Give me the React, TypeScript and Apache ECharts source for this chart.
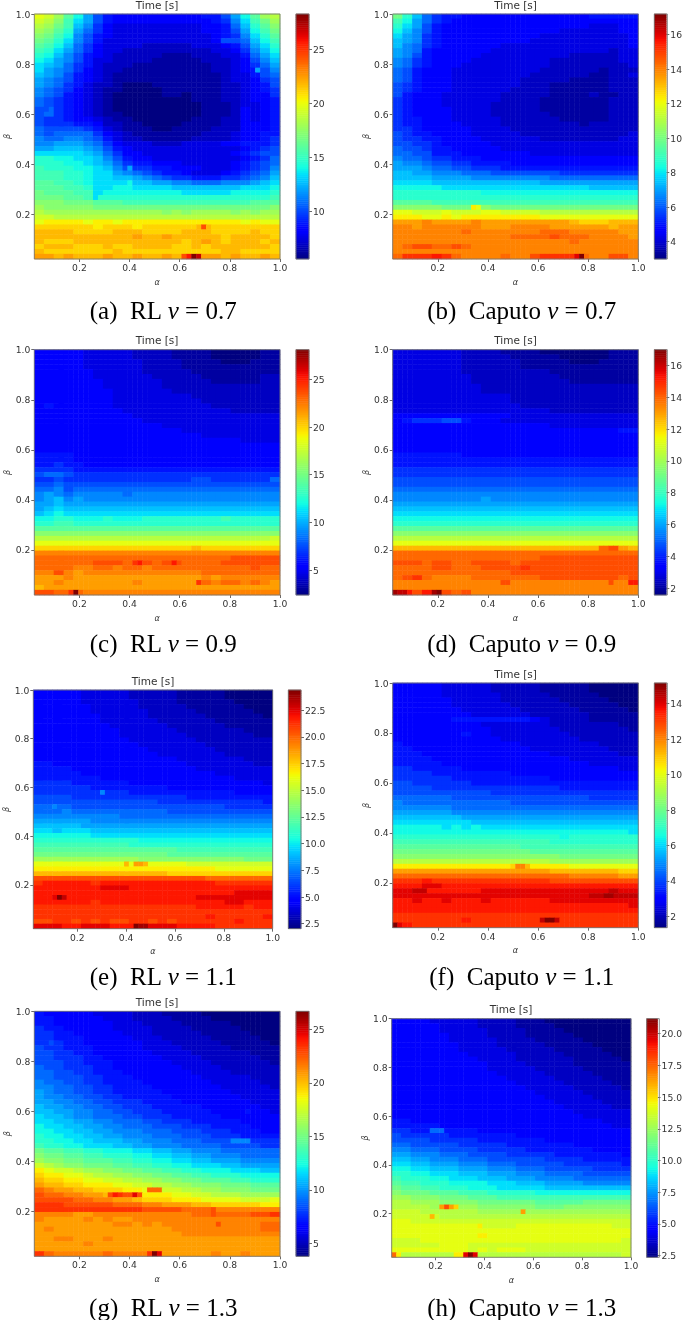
import React, { useEffect, useRef } from "react";
import * as echarts from "echarts";

// Cell values are stored as one character per cell, 0..z = fraction 0..35/35 of the panel's colour range.
const rowsA = [
"mljgda75444444444557adgjk","lkifca754444444444569cfhj","kjhfb9643333333334458begi","jigea8643333333334457adfh","ihfd975433333333334569ceg",
"hgec975333333333334778bdf","gfdb864333322222333457ace","feca8643322222222233469bd","edb975432222211122233 58ac","dca975332222111112223479b",
"cba865322211111111223468a","ca98643221111111112234579","ba97543211111111111233578","a987543211111111111233467","a986532210001111111223457",
"9876432110000111111223456","9875432100000110111223446","8765432100000000111223445","8765432100000000011123345","7765432100000000011124345",
"7865432110000000011124345","7665443211000000111224345","7666554221100001111224445","8777765321110011112224445","8788886432111111122234455",
"9889987532211111222234456","99aaa98643332223333445556","aabbba975433333333333 4567","cccccba86443333333334567","eeddccb975443333333334568",
"eeeddcba86554443333345678","feeeddcb97665544433345679","fffeedcca98765543334 5678a","fffeedccbba9876655566789b","ggffedccccbbaa99888999abc",
"gggffeccddccccbbbbbbbcccd","hgggffcdddddddd cccccdddde","hhhggfeeeeeeeeeeeeeeeeeef","iiihhhgggfffffffffffffggg","jiiiiihhhhhhhhhhhhhhhhhhi",
"kjjjjjjjjjjjjijijjjjijijj","llkkkkkkkkkkkkkkkkkkkkkkk","mnnnnmnnmnnnnnnnnnnnnmnmm","oooooonooonooooooooooooooo","ppppoooopppoooopppoooopoo",
"ppppppppppqppqpppppoppppo","pooopppppppppppopqpopppop","opppooopooppppoopoppppppo","pooooooopooooooooooppoooo","qqpqpppqppqppqpppqqpqppqp",
].map((s) => s.replace(" ", ""));
const hotA: [number, number, string][] = [[43,33,"p"],[43,34,"t"],[43,35,"p"],[49,30,"t"],[49,31,"v"],[49,32,"z"],[49,33,"x"],[31,19,"a"],[34,19,"d"],[11,45,"a"],[37,12,"c"],[19,3,"8"]];

const rowsB = [
"heb8655444444444444455555","fda8654444444444444444444","eca7544444444444444433344","db97544444444444433333344","ca96544444444443333333334",
"ba96544444444433333333334","b986544444433333333333334","a985444444333333333333233","a975444443333333332222233","9865444433333333222222233",
"9865444333333333222222223","8754443333333332222221222","8754443333333322222211223","8754443333333222221111222","7654443333333222111111222",
"7654443333332222111111222","7544433333322222111121122","6544433333322221111111222","6544433333222221111111222","6544443333222221111111222",
"6544443333222222111111222","6554443333322222211111222","6554444333322222222122222","6654444433332222222222222","7655444433333222222222223",
"7665544443333332222222233","7766544444333333333333333","8776554444433333333333333","8877555444444433333333333","9887665554444444444444444",
"a998776655554444444444444","aaa9887766655555555555555","bbaa999888777777766666666","bbbbaaaa99999999888888888","ccccbbbbbbbbbbbaaaaaaaaaa",
"dddddcccccccccccccccbbbbb","eeeeeeeeedddddddddddddddd","eeeeeeeeeeeeeeeeeeeeeeeee","ggggfffffffffffffffffffff","iiiiihhhiihhhhhhhhhhhhhhh",
"mmlllmlllmmllllkkkkkkkkkk","nnnmmnmnnnnnnnnmmmmmmmmmm","qqqrqqqqrqqqqqqqqqpoooppp","rrqrrrrrrqqqrrrrqqqqqqpqq","rrrrrrrsrrrrrrrsssrrrrrqq",
"rrrrrrrrrrrrsssstsssrrrrq","rrrrrrrrrrrrrrrrrrsrrrrrr","rsttsstsrrrrrrrrrrrrrrrrr","rrrrrrrrrrrrrrrrrrrrrrrrr","suuuvusrrrrsrrtuuuusrrttr",
];
const hotB: [number, number, string][] = [[39,16,"n"],[39,17,"m"],[49,37,"w"],[49,38,"z"]];

const rowsC = [
"4444433333222211110000011","4444433333222211110000011","4444433333322221111000111","4444433333322221111111111","4444443333322222111111111",
"4444443333332222211111122","4444444333333222221111122","4444444333333222222222222","4444444433333322222222222","4444444433333333222222222",
"4444444433333333322222222","4544444433333333332222222","4444444443333333333322222","4444444444333333333333333","4444444444433333333333333",
"4444444444444333333333333","4444444444444443333333333","4444444444444444433333333","4444444444444444444443333","4444444444444444444444444",
"4444444444444444444444444","5555444444444444444444444","5555444444444444444444444","5565544444444444444444444","6666555555555555555555555",
"7887666666666666666666666","6676666666666666776666668","7787777777777777777777777","8897888888888888888888888","9a98999998999999999999999",
"9ab9a99999999999999999999","aabaaaaaaaaaaaaaaaaaaaaaa","abcbbbbbbbbbbbbbbbbbbbbbb","bcdcccccccccccccccccccccc","ddeedddedddeeeeeeeefeeeee",
"eeffeeeeeeeeeeeeeeeeeeeee","ggggggggggggggggggggggggg","iiiiiiiiiiiiiiiiiiiiiiiii","kkkkkkkkkkkkkkkkkkkkkkkkl","mmmmmmmmmmmmmmmmmmmmmmmmm",
"oooooooooooooooopoooooooo","rrrrrrrrrrrrrrrrrrrrrrrrr","ssssssssssssssssssssttttt","sssssstttsttsttsssstttttt","ssssrrssrssrsssssssssstss",
"rrtrqrrrrrrrrrrrrssssssss","qqqrqqqqqqqqqqqqqrqrrrrrr","qqrqqqqqqqrqqqqqqsrssrsrq","pqqqqqqqqqqqqqqqqqqqqqqqq","ttsssrrrrrrrrrrrrrrrrrrrr",
];
const hotC: [number, number, string][] = [[49,8,"z"],[49,7,"u"],[47,33,"u"],[43,20,"u"],[43,21,"v"],[43,28,"v"]];

const rowsD = [
"3333333222211110000000111","3333333222221111100000111","3333333222222111110001111","3333333222222111111111111","3333333222222222111111111",
"3333333322222222211111111","3333333322222222221111111","3333333332222222222222222","3333333332222222222222222","3333333333332222222222222",
"3333333333332222222222222","3333333333333222222222222","3333333333333333222222222","4444444444443333333333333","4566677544433333333333333",
"4444444444444444333333333","4444444444444444444444455","4444444444444444444444444","4444444444444444444444444","4444444444444444444444444",
"4444444444444444444444444","5555555444444444444444444","5555555555555555555555555","5555555555555555555555555","6666666666666666666666666",
"6666666666666666666666666","7777777777777777777777777","7777777777777777777777777","8888888888888888888888888","9999999999999999999999999",
"999999999a999999999999999","aaaaaaaaaaaaaaaaaaaaaaaaa","bbbbbbbbbbbbbbbbbbbbbbbbb","ccccccccccccccccccccccccc","ddddddddddddddddddddddddd",
"eeeeeeeeeeeeeeeeeeeeeeeee","ggggggggggggggggggggggggg","iiiiiiiiiiiiiiiiiiiiiiiii","kkkkkkkkkkkkkkkkkkkkkkkkk","mmmmmmmmmmmmmmmmmmmmmmmmm",
"pppppppppppppppppppppstqp","sssssssssssssssssssssssss","ssssssssssssssstttttttttt","tttsttssttttstttttttttttt","ssssttsssttttuttttttttttt",
"ssssssssssssttttttttttttt","stusrrrrsssssssttttttttst","rrrrrrrrrrrtrrrrrrrrrrrrv","rrrrrrrrrrrrrrrrrrrrrrrrr","xxtvytstrrrrrrrrrrrrrrrrr",
];
const hotD: [number, number, string][] = [[49,0,"y"],[49,1,"x"],[49,2,"x"],[49,3,"v"],[49,8,"y"],[49,9,"z"],[47,44,"t"]];

const rowsE = [
"4444433333222221111100000","4444433333222221111100000","4444433333322221111110000","4444443333322222111111000","4444443333332222211111100",
"4444444333332222221111110","4444444333333222222111111","4444444433333322222211111","4444444443333332222222111","4444444443333333222222211",
"4444444444333333322222222","4444444444433333332222222","4444444444443333333222222","4444444444444333333322222","4444444444444443333333222",
"5544444444444444333333322","5555444444444444433333333","5555544444444444444333333","5555555444444444444443333","6666555555444444444444443",
"6666665555555544444444444","6666666666555555555554444","7777666666666666555555555","7777777777777666666666665","8888777777777777777766666",
"8889888888888877777777777","9999999998888888888888888","aaaaaa9999999999999999999","bbbbbaaaaaaaaaaaaaaaaaaaa","ccbcccbbbbbbbbbbbbbbbbbbb",
"ddddddccccccccccccccccccc","eeeeeeeeeeedddddddddddddd","ffffffffffeeeeeeeeeeeeeee","gggggggggggggggffffffffff","hhhhhhhhhhhhhhggggggggggg",
"jjjjjjjjjjjiiiiiiiiiiihhh","mmmmmmmmmmmmmmmmlllllllll","nnnnnnnnnnnnnnnnnnnmmmmmm","ppppppppppppppooooooooooo","ttttttttttttttttttsssssss",
"uvvvvvuvvvvvvvvvvvvuuuuuu","vvvvvvvwwwvvvvvvvvvvvvvvv","vvvvvvvvvvvvvvvvvvvvvwwww","vvvvvvvvvvvvvvvvvwwwwwwww","vvvvvvuvvvvvvvvvvvvvwwvvv",
"uuuuuuuuuuuuuuuuuvvvvvuvv","uuuuuuuuuuuuuuuuuuuuuuuuu","uuuuuuuuuuuuuuuuuuvuuuuuv","ttuutututtuututuuuuuuvuuu","wwwvvwwwvvvwwwwvvvvuuuuuu",
];
const hotE: [number, number, string][] = [[49,21,"z"],[49,22,"y"],[49,23,"y"],[43,4,"w"],[43,5,"z"],[43,6,"x"],[36,19,"p"],[36,21,"q"],[36,22,"q"],[36,23,"p"],[21,14,"9"],[24,4,"9"]];

const rowsF = [
"4444433333222221111100000","4444433333222221111100000","4444433333322222111110000","4444443333322222211111000","4444443333332222221111100",
"4444444333333222222111110","4444444433333322222211111","4444445555555543222211111","4444444443333333222222211","4444444444333333322222221",
"4444444544333333332222222","4444444444433333333222222","5444444444444333333332222","5544444444444433333333222","5554444444444444333333322",
"5555444444444444443333333","5555544444444444444433333","6655555444444444444444433","6666555555554444444444444","6666665555555555444444444",
"7766666655555555555555555","7777666666666666655555555","7777777777666666666666666","8888887777777777777766666","9888888888887777777777777",
"9999998888888888888888888","aaaaaa9999999999999999999","bbbbbbbaaaaaaaaaaaaaaaaaa","ccccccccbbbbbbbbbbbbbbbbb","dddddcdcdcccccccccccccccc",
"ddddddddddddddddddddddddc","eeeeeeeeeeeeeeeeedeeeeeee","ffffffffffffffffeeeeeeeee","gggggggggggggffffffffffff","hhhhhhhhhhhhhhggggggggggg",
"iiiiiiiiiiiiiiiiihhhhhhhh","kkkkkkkkkkkkkkkkjjjjjjjjj","nnnnnnnnnnnnnnnnnnmmmmmmm","qqqqqqqqqqqqqqqqpppppppoo","ssssssssssssssssssrrrrrqq",
"uuuvuuuuuuuuuuuuttttttttt","vvvwwvvvvvvvvvvvvvvvvvvvv","wwvvvvvvvwwwwwwwwwwwwwxww","wwwwwwwwwwwwwwwwwwwwxxxxx","vvwvvwvvvwvvvvvvwwwwwwwww",
"vvvvvvvvvvvvvvvvvvvvvvvvw","vvvvvvvvvvvvvvvvvvvvvvvvv","uuuuuuuuuuuuuuuuuuuuuuuuu","uuuuuuuvuuuuuuuuuuuuuuuuu","wvuuuuuuuuuuuuuuuuuuuuuuu",
];
const hotF: [number, number, string][] = [[37,24,"o"],[37,25,"r"],[37,26,"r"],[37,27,"p"],[48,30,"x"],[48,31,"z"],[48,32,"z"],[48,33,"x"],[49,0,"z"],[42,4,"x"],[42,5,"x"],[42,6,"x"],[43,43,"y"],[43,44,"y"]];

const rowsG = [
"5444443333222111100000000","5544444333222211110000000","5544444433322221111100000","6554444433332222111110000","6655444443332222211111000",
"6655544444333222221111100","6665544444433322222111110","7665554444433332222211111","7766554444443333222222111","7766655444444333322222211",
"7776655544444433332222221","8776665544444443333222222","8877665554444444333322222","8877766555444444433333222","9887766555544444443333322",
"9988776655554444444333332","a988776655555444444433333","a998877665555544444443333","aa99887766655554444444333","baa9988776665555544444433",
"bbaa998877666555554444443","cbba998887766655555444444","ccbbaa9988877666555554444","dccbbaa998887776665555444","ddccbbaa99988877766655544",
"eddccbbaa9998887776665555","eeddccbbbaa99988877776666","feeddcccbbaa9998888777766","hggffeedddccbbaa999888888","ihhggffeeeddccbbaa9998888",
"jiihhgggffeeddccbbaaa9999","lkjiihhhggffeeddcccbbaaaa","nmllkjjiihhggffeedddcccbb","onnmmlkkjjiihhggffeeedddd","poonnmmllkkjjiihhgggffeee",
"qppoonnnmmllkkjjiiihhhggg","srqqppooonnmmllkkjjiiihhh","tssrrqqppoonnnmmllkkkjjjj","ttttssrrqqpooonnnmmmmlllm","uuutttttsssrrqqqppooooonn",
"uuuuuuuuuuuttttsssrrrrrrr","rrrrqqrrrrrrrrrrssssssttu","rqqqqrqrqqrrrrrrrrrrrrrrr","qqqqqqqqrrqrqrrrrrrrrrrss","qrqqqqqqqqqqqqrrrrrrrrrss",
"qqqqqqqqqqqqqqqrrrrrrrrrr","qqrrqqqrqqqqqqqqqqqqqqqqq","qqqqqrqqqqqqqqqqqqqqqqqqq","qqqqqqqqqqqqqqqqqqqqqqqqq","usrrrrrsrrrrqqqqqqrqqrqqq",
];
const hotG: [number, number, string][] = [[37,15,"t"],[37,16,"v"],[37,17,"u"],[37,18,"t"],[37,19,"t"],[37,20,"w"],[37,21,"t"],[36,23,"s"],[36,24,"s"],[36,25,"s"],[26,40,"9"],[26,41,"9"],[26,42,"9"],[26,43,"9"],[20,43,"5"],[6,3,"7"],[43,37,"t"],[41,36,"t"],[40,36,"t"],[49,23,"u"],[49,24,"z"],[49,25,"w"]];

const rowsH = [
"4444333332222111000000000","4444433332222111100000000","4444433333222211110000000","4444443333222211111000000","4444443333322221111100000",
"4444444333322222111110000","4444444333332222211111000","4444444433333222221111100","4444444443333222222111110","4444444444333322222111111",
"4444444444333332222211111","4444444444433333222221111","4444444444443333322222111","4444444444444333332222211","4444444444444433333222221",
"4444444444444443333322222","4444444444444444333332222","4444444444444444433333222","4444444444444444443333322","4444444444444444444333333",
"4444444444444444444433333","5544444444444444444444333","5555544444444444444444433","6655555554444444444444444","7666665555555444444444444",
"7777666665555555444444444","8877777666665555555444444","9988877776666655555554444","aa99988877776666655555554","bbaa999888777777666655555",
"ccbbaaa999888777776666665","ddccbbbaaa999888777776666","eeddcccbbbaaa999888877777","feeeddcccbbbaaa9999888888","gffeeeddddcccbbbaaaa99999",
"hggffeeedddcccccbbbbbbbbb","ihhhgggfffeeeeeddddddddddd","jjiiihhhgggffffffffffffff","kkjjjiiiihhhhhhggggghhhhh","kkkkjjjjjiiiiiihhhiiiiiii",
"lllkkkkkkjjjjjjjjjjjjjjjj","lllllkkkkkkkkkkkkkkkkkkkk","mmlllllllllllllllllllllll","mmmmmmmmmllllmmmmmmmmmmll","mmmmmmmmmmmmmmmmmmmmmmmmm",
"mmmmmmmmmnmmmmmmmmmmmmmmm","lllmmmmmmmmmmmmmmmmmmmmml","lllllmmmlllllllllllllllll","mmmmmmmmlmlmmmlllllllllll","lkkkkkkkkkkkkkkkkkkkkkkkl",
];
const hotH: [number, number, string][] = [[49,0,"s"],[49,1,"n"],[49,13,"n"],[49,14,"n"],[49,15,"w"],[49,16,"z"],[49,17,"w"],[39,10,"q"],[39,11,"t"],[39,12,"q"],[39,13,"o"],[41,8,"p"],[40,27,"q"],[23,8,"8"],[23,9,"8"],[23,10,"8"],[43,18,"n"]];

const minMax = [[5.6,28.3],[3.0,17.2],[2.4,28.1],[1.56,17.0],[2.03,24.4],[1.36,15.17],[3.8,26.7],[2.37,21.18]];
const barTicks = [
  [10,15,20,25],[4,6,8,10,12,14,16],[5,10,15,20,25],[2,4,6,8,10,12,14,16],
  [2.5,5,7.5,10,12.5,15,17.5,20,22.5],[2,4,6,8,10,12,14],[5,10,15,20,25],[2.5,5,7.5,10,12.5,15,17.5,20],
];
const barDecimals = [0,0,0,0,1,0,0,1];
const letters = ["a","b","c","d","e","f","g","h"];
const methods = ["RL","Caputo","RL","Caputo","RL","Caputo","RL","Caputo"];
const nus = ["0.7","0.7","0.9","0.9","1.1","1.1","1.3","1.3"];
const axisTicks = [0.2,0.4,0.6,0.8,1.0];
const allRows = [rowsA,rowsB,rowsC,rowsD,rowsE,rowsF,rowsG,rowsH];
const allHot = [hotA,hotB,hotC,hotD,hotE,hotF,hotG,hotH];

// layout in page pixels: plot l,r,t,b; colour bar l,r; title x,y; caption x,y
const layout = [
  [34.3,280,14,259,296,309,157,5,163,310],
  [392.7,638.3,14,259,654.3,667.3,515.5,5,521.7,310],
  [34.3,280,349.7,595,296,309,157,340.3,163,643],
  [392.7,638.3,349.7,595,654.3,667.3,515.5,340.3,521.7,643],
  [33.3,272.7,690,928.7,288.3,301,153,681,163,976],
  [392.7,638.3,683,927.7,654.3,667.3,515.5,674,521.7,976],
  [34.3,280,1011.3,1256.3,296,309,157,1002.3,163,1307],
  [391.7,631,1018.7,1257.3,646.7,659.3,511,1009.3,521.7,1307],
];

const N = 50;
const BAR_STEPS = 128;
const SANS = "'DejaVu Sans'";
const SERIF = "'Liberation Serif'";

function jet(t: number) {
  const clamp = (v: number) => Math.max(0, Math.min(1, v));
  const r = t < 0.35 ? 0 : t < 0.66 ? (t - 0.35) / 0.31 : t < 0.89 ? 1 : 1 - (0.5 * (t - 0.89)) / 0.11;
  const g = t < 0.125 ? 0 : t < 0.375 ? (t - 0.125) / 0.25 : t < 0.64 ? 1 : 1 - (t - 0.64) / 0.27;
  const b = t < 0.11 ? 0.5 + (0.5 * t) / 0.11 : t < 0.34 ? 1 : 1 - (t - 0.34) / 0.31;
  const h = (v: number) => Math.round(clamp(v) * 255).toString(16).padStart(2, "0");
  return "#" + h(r) + h(g) + h(b);
}
const jetPalette = Array.from({ length: 65 }, (_, i) => jet(i / 64));

function level(ch: string) { return parseInt(ch, 36) / 35; }

function cells(i: number) {
  const [lo, hi] = minMax[i];
  const out: number[][] = [];
  for (let r = 0; r < N; r++) {
    const row = allRows[i][r] ?? allRows[i][allRows[i].length - 1];
    for (let c = 0; c < N; c++) {
      const k = Math.floor(c / 2);
      const ch = row[k] ?? row[row.length - 1];
      out.push([c, N - 1 - r, lo + (hi - lo) * level(ch)]);
    }
  }
  allHot[i].forEach(([r, c, ch]) => { out[r * N + c][2] = lo + (hi - lo) * level(ch); });
  return out;
}

function buildOption() {
  const grid: any[] = [], xAxis: any[] = [], yAxis: any[] = [], series: any[] = [], visualMap: any[] = [], graphic: any[] = [];
  const labelStyle = { fontFamily: SANS, fontSize: 9.2, color: "#333" };
  const tickStyle = { show: true, length: 3, lineStyle: { color: "#444", width: 0.8 } };
  const cats = Array.from({ length: N }, (_, k) => String(k));
  const barCats = Array.from({ length: BAR_STEPS }, (_, k) => String(k));
  letters.forEach((letter, i) => {
    const [l, r, t, b, cl, cr, tx, ty, cx, cy] = layout[i];
    const [lo, hi] = minMax[i];
    grid.push({ left: l, width: r - l, top: t, height: b - t });
    grid.push({ left: cl, width: cr - cl, top: t, height: b - t });
    const g = 2 * i, gb = 2 * i + 1;
    const xBase = xAxis.length, yBase = yAxis.length;
    const hiddenCat = (gridIndex: number, data: string[]) => ({ type: "category", gridIndex, data, show: false });
    xAxis.push(hiddenCat(g, cats));
    yAxis.push(hiddenCat(g, cats));
    const valueAxis = (name: string, gap: number, rotate: number, pos: string) => ({
      type: "value", gridIndex: g, min: 0.02, max: 1.0, position: pos, name,
      nameLocation: "middle", nameGap: gap, nameRotate: rotate,
      nameTextStyle: { fontFamily: SANS, fontStyle: "italic", fontSize: 8, color: "#333" },
      splitLine: { show: false }, axisLine: { show: false },
      axisTick: { ...tickStyle, customValues: axisTicks },
      axisLabel: { ...labelStyle, margin: 4, customValues: axisTicks, formatter: (v: number) => v.toFixed(1) },
    });
    xAxis.push(valueAxis("α", 19, 0, "bottom"));
    yAxis.push(valueAxis("β", 21, 90, "left"));
    xAxis.push(hiddenCat(gb, ["0"]));
    yAxis.push(hiddenCat(gb, barCats));
    yAxis.push({
      type: "value", gridIndex: gb, min: lo, max: hi, position: "right",
      splitLine: { show: false }, axisLine: { show: false },
      axisTick: { ...tickStyle, customValues: barTicks[i] },
      axisLabel: { ...labelStyle, margin: 4, customValues: barTicks[i], formatter: (v: number) => v.toFixed(barDecimals[i]) },
    });
    series.push({
      type: "heatmap", xAxisIndex: xBase, yAxisIndex: yBase, data: cells(i), silent: true,
      progressive: 0, itemStyle: { borderWidth: 0 }, emphasis: { disabled: true },
    });
    const barData = Array.from({ length: BAR_STEPS }, (_, k) => [0, k, lo + ((hi - lo) * (k + 0.5)) / BAR_STEPS]);
    series.push({
      type: "heatmap", xAxisIndex: xBase + 2, yAxisIndex: yBase + 2, data: barData, silent: true,
      progressive: 0, itemStyle: { borderWidth: 0 }, emphasis: { disabled: true },
    });
    visualMap.push({ show: false, type: "continuous", seriesIndex: [2 * i, 2 * i + 1], dimension: 2, min: lo, max: hi, inRange: { color: jetPalette } });
    const frame = { fill: "none", stroke: "#777", lineWidth: 0.9 };
    graphic.push({ type: "rect", z: 50, silent: true, shape: { x: l, y: t, width: r - l, height: b - t }, style: frame });
    graphic.push({ type: "rect", z: 50, silent: true, shape: { x: cl, y: t, width: cr - cl, height: b - t }, style: frame });
    graphic.push({ type: "text", z: 50, silent: true, x: tx, y: ty, style: { text: "Time [s]", fontFamily: SANS, fontSize: 10.5, fill: "#333", textAlign: "center", textVerticalAlign: "middle" } });
    graphic.push({
      type: "text", z: 50, silent: true, x: cx, y: cy,
      style: {
        text: `{n|(${letter})  ${methods[i]} }{i|ν}{n| = ${nus[i]}}`,
        textAlign: "center", textVerticalAlign: "middle",
        rich: {
          n: { fontFamily: SERIF, fontSize: 25, fill: "#000" },
          i: { fontFamily: SERIF, fontStyle: "italic", fontSize: 25, fill: "#000" },
        },
      },
    });
  });
  return { animation: false, backgroundColor: "#fff", grid, xAxis, yAxis, series, visualMap, graphic };
}

export default function App() {
  const ref = useRef<HTMLDivElement>(null);
  useEffect(() => {
    document.body.style.margin = "0";
    const chart = echarts.init(ref.current!, undefined, { renderer: "svg" });
    chart.setOption(buildOption() as any);
    return () => chart.dispose();
  }, []);
  return <div ref={ref} style={{ width: 685, height: 1320, filter: "blur(0.55px)" }} />;
}
